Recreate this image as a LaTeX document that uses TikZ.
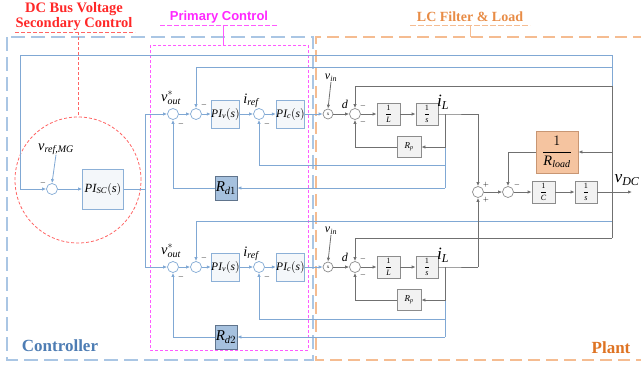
\documentclass[tikz,border=0pt]{standalone}
\usepackage{amsmath}
\usepackage{fontspec}
\setmainfont{Liberation Serif}
\newfontfamily\hsans{Liberation Sans}
\usetikzlibrary{arrows.meta,calc}
\definecolor{ctl}{RGB}{128,168,212}
\definecolor{plt}{RGB}{112,112,112}
\definecolor{cfill}{RGB}{244,247,250}
\definecolor{cedge}{RGB}{140,176,215}
\definecolor{pfill}{RGB}{242,242,242}
\definecolor{pedge}{RGB}{140,140,140}
\definecolor{rdfill}{RGB}{166,193,222}
\definecolor{rdedge}{RGB}{96,116,140}
\definecolor{rlfill}{RGB}{245,196,160}
\definecolor{rledge}{RGB}{200,150,115}
\definecolor{bluedash}{RGB}{170,198,228}
\definecolor{orangedash}{RGB}{245,188,145}
\definecolor{magdash}{RGB}{255,90,255}
\definecolor{reddash}{RGB}{255,100,100}
\definecolor{redtxt}{RGB}{255,40,40}
\definecolor{magtxt}{RGB}{255,40,255}
\definecolor{orgtxt}{RGB}{232,140,70}
\definecolor{ctltxt}{RGB}{78,125,180}
\definecolor{plttxt}{RGB}{222,115,35}
\newcommand{\ti}[1]{\textit{#1}}
\begin{document}
\begin{tikzpicture}[x=1pt,y=-1pt,
  >={Latex[length=4pt,width=3.4pt]},
  cl/.style={draw=ctl,line width=0.8pt},
  pl/.style={draw=plt,line width=0.8pt},
  sumc/.style={circle,draw=ctl,fill=white,line width=0.7pt,minimum size=11pt,inner sep=0pt},
  sump/.style={circle,draw=pedge,fill=white,line width=0.7pt,minimum size=11pt,inner sep=0pt},
  cbox/.style={rectangle,draw=cedge,fill=cfill,line width=0.8pt,inner sep=0pt,font=\fontsize{11.5}{13}\selectfont},
  pbox/.style={rectangle,draw=pedge,fill=pfill,line width=0.8pt,inner sep=0pt,font=\footnotesize,minimum width=23pt,minimum height=22pt},
  rdbox/.style={rectangle,draw=rdedge,fill=rdfill,line width=0.8pt,inner sep=0pt,minimum width=22pt,minimum height=24pt,font=\fontsize{15}{17}\selectfont},
  sgn/.style={font=\scriptsize,inner sep=0pt},
  lbl/.style={inner sep=0pt}]
\useasboundingbox (0,0) rectangle (641,365);

% dashed region boxes
\draw[bluedash,line width=1.3pt,dash pattern=on 14pt off 6pt] (7,37) rectangle (313,360);
\draw[orangedash,line width=1.3pt,dash pattern=on 12pt off 6pt] (645,37) -- (316,37) -- (316,360) -- (645,360);
\draw[magdash,line width=0.8pt,dash pattern=on 3pt off 2pt] (150,45) rectangle (308,350);
\draw[reddash,line width=0.8pt,dash pattern=on 3pt off 2pt] (78,180) circle[radius=63pt];

% titles
\node[lbl,text=redtxt,font=\fontsize{14.5}{16}\selectfont\bfseries] (t1) at (74,9) {DC Bus Voltage};
\node[lbl,text=redtxt,font=\fontsize{14.5}{16}\selectfont\bfseries] (t2) at (74,24) {Secondary Control};
\draw[reddash,line width=0.8pt,dash pattern=on 4pt off 2pt] (15,32) -- (135,32);
\draw[reddash,line width=0.8pt,dash pattern=on 3pt off 2pt] (78,32) -- (78,117);
\node[lbl,text=magtxt,font=\fontsize{13}{15}\selectfont\hsans\bfseries] (t3) at (219,17) {Primary Control};
\draw[magdash,line width=0.8pt,dash pattern=on 5pt off 2pt] (160,25) -- (278,25);
\draw[magdash,line width=0.8pt] (223,25) -- (223,45);
\node[lbl,text=orgtxt,font=\fontsize{14}{16}\selectfont\bfseries] (t4) at (470,17) {LC Filter \& Load};
\draw[orangedash,line width=0.8pt,dash pattern=on 6pt off 2pt] (410,25) -- (530,25);
\draw[orangedash,line width=0.8pt] (470,25) -- (470,37);
\node[lbl,text=ctltxt,font=\fontsize{17}{19}\selectfont\bfseries] (t5) at (60,346) {Controller};
\node[lbl,text=plttxt,font=\fontsize{17}{19}\selectfont\bfseries] (t6) at (611,348) {Plant};

% secondary control
\node[sumc] (sS) at (52,189) {};
\node[lbl,font=\Large] (vref) at (56,149) {$\ti{v}_{\ti{ref,MG}}$};
\node[cbox,minimum width=41pt,minimum height=40pt,font=\fontsize{12.5}{14}\selectfont] (PIsc) at (103,189) {$\ti{PI}_{\ti{SC}}(\ti{s})$};
\node[sgn] (msS) at (43,183) {$-$};
\coordinate (TL) at (20,55);
\coordinate (TR) at (612,55);
\coordinate (J) at (145,189);
\draw[cl,->] (vref.south) -- (sS.north);
\draw[cl,->] (TR) -- (TL) |- (sS.west);
\draw[cl,->] (sS) -- (PIsc);
\draw[cl] (PIsc.east) -- (J);

% two identical channels
\foreach \r/\ry/\rft/\rfb/\rfr/\rfp/\rn in {a/114/67/165/188/86/1, b/267/221/319/337/238/2}{
  \node[sumc] (s1\r) at (173,\ry) {};
  \node[sumc] (s2\r) at (196,\ry) {};
  \node[cbox,minimum width=27pt,minimum height=28pt] (piv\r) at (225.5,\ry) {$\ti{PI}_{\ti{v}}(\ti{s})$};
  \node[sumc] (s3\r) at (259,\ry) {};
  \node[cbox,minimum width=27pt,minimum height=28pt] (pic\r) at (290.5,\ry) {$\ti{PI}_{\ti{c}}(\ti{s})$};
  \node[rdbox] (rd\r) at (226,\rfr) {$\ti{R}_{\ti{d}\rn}$};
  \node[sump,minimum size=10pt,font=\tiny] (m\r) at (328,\ry) {x};
  \node[sump] (ps\r) at (355,\ry) {};
  \node[pbox] (il\r) at (388.5,\ry) {$\dfrac{1}{\ti{L}}$};
  \node[pbox,minimum width=22pt] (in\r) at (427,\ry) {$\dfrac{1}{\ti{s}}$};
  \node[pbox,minimum width=24pt,minimum height=21pt,font=\small] (rp\r) at (409,\ry+33) {$\ti{R}_{\ti{p}}$};
  \node[lbl,font=\Large] (vo\r) at (171,\ry-16) {$\ti{v}^{*}_{\ti{out}}$};
  \node[lbl,font=\Large] (ir\r) at (251,\ry-13) {$\ti{i}_{\ti{ref}}$};
  \node[lbl,font=\large] (vin\r) at (331,\ry-36) {$\ti{v}_{\ti{in}}$};
  \node[lbl,font=\large] (d\r) at (345,\ry-10) {\ti{d}};
  \node[lbl,font=\LARGE] (iL\r) at (443,\ry-12) {$\ti{i}_{\ti{L}}$};
  \node[sgn] (n1\r) at (181,\ry+10) {$-$};
  \node[sgn] (n2\r) at (204,\ry-9) {$-$};
  \node[sgn] (n3\r) at (267,\ry+10) {$-$};
  \node[sgn] (n4\r) at (363,\ry-8) {$-$};
  \node[sgn] (n5\r) at (363,\ry+8) {$-$};
  \coordinate (br\r) at (445,\ry);
  \coordinate (o\r) at (478,\ry);
  \coordinate (fti\r) at (612,\rft);
  \coordinate (fpi\r) at (612,\rfp);
  \coordinate (fii\r) at (445,\rfb);
  \coordinate (fri\r) at (445,\rfr);
  % controller links
  \draw[cl,->] (J) |- (s1\r.west);
  \draw[cl,->] (s1\r) -- (s2\r);
  \draw[cl,->] (s2\r) -- (piv\r);
  \draw[cl,->] (piv\r) -- (s3\r);
  \draw[cl,->] (s3\r) -- (pic\r);
  \draw[cl,->] (pic\r) -- (m\r);
  \draw[cl,->] (fti\r) -| (s2\r.north);
  \draw[cl] (br\r |- rp\r.east) -- (fri\r);
  \draw[cl,->] (fii\r) -| (s3\r.south);
  \draw[cl,->] (fri\r) -- (rd\r.east);
  \draw[cl,->] (rd\r.west) -| (s1\r.south);
  % plant links
  \draw[pl,->] (vin\r.south) -- (m\r.north);
  \draw[pl,->] (m\r) -- (ps\r);
  \draw[pl,->] (ps\r) -- (il\r);
  \draw[pl,->] (il\r) -- (in\r);
  \draw[pl] (in\r) -- (br\r) -- (o\r);
  \draw[pl,->] (br\r) |- (rp\r.east);
  \draw[pl,->] (rp\r.west) -| (ps\r.south);
  \draw[pl,->] (fpi\r) -| (ps\r.north);
}

% output stage
\node[sump] (sa) at (478,192) {};
\node[sump] (sb) at (508,192) {};
\node[pbox] (ic) at (543.5,192) {$\dfrac{1}{\ti{C}}$};
\node[pbox,minimum width=22pt] (is) at (586,192) {$\dfrac{1}{\ti{s}}$};
\node[rectangle,draw=rledge,fill=rlfill,line width=0.8pt,inner sep=0pt,minimum width=42pt,minimum height=42pt,font=\Large] (rl) at (557,152) {$\dfrac{1}{\ti{R}_{\ti{load}}}$};
\node[lbl,font=\LARGE] (vdc) at (627,180) {$\ti{v}_{\ti{DC}}$};
\node[sgn] (pa1) at (486,185) {$+$};
\node[sgn] (pa2) at (486,200) {$+$};
\node[sgn] (mb) at (517,185) {$-$};
\coordinate (vout) at (632,192);
\coordinate (vk) at (612,86);
\coordinate (vr) at (612,152);
\draw[pl,->] (oa) -- (sa.north);
\draw[pl,->] (ob) -- (sa.south);
\draw[pl,->] (sa) -- (sb);
\draw[pl,->] (sb) -- (ic);
\draw[pl,->] (ic) -- (is);
\draw[pl,->] (is) -- (vout);
\draw[cl] (TR) -- (vk);
\draw[pl] (vk) -- (fpib);
\draw[pl,->] (vr) -- (rl.east);
\draw[pl,->] (rl.west) -| (sb.north);
\end{tikzpicture}
\end{document}
